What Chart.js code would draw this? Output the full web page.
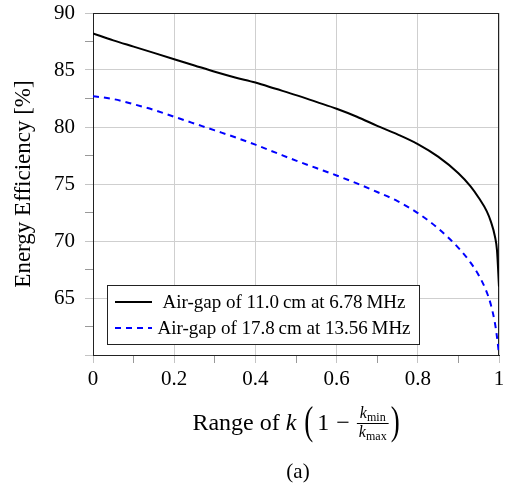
<!DOCTYPE html>
<html>
<head>
<meta charset="utf-8">
<script src="https://cdn.jsdelivr.net/npm/chart.js@4.4.1/dist/chart.umd.min.js"></script>
<style>
  body { margin: 0; background: #fff; }
  #wrap { width: 510px; height: 493px; }
</style>
</head>
<body>
<div id="wrap"><canvas id="effChart" width="510" height="493"></canvas></div>
<script>
// range of k = 1 - kmin/kmax
const kRange   = [0, 0.05, 0.1, 0.15, 0.2, 0.25, 0.3, 0.35, 0.4, 0.45, 0.5, 0.55, 0.6, 0.65, 0.7, 0.75, 0.8, 0.85, 0.9, 0.93, 0.95, 0.97, 0.98, 0.99, 0.995, 1];
const eff11cm  = [88.2, 87.6, 87.05, 86.5, 85.95, 85.4, 84.85, 84.35, 83.9, 83.35, 82.8, 82.2, 81.6, 80.9, 80.1, 79.35, 78.5, 77.4, 75.95, 74.8, 73.8, 72.6, 71.7, 70.4, 69.2, 66.0];
const eff178cm = [82.7, 82.45, 82.0, 81.5, 80.9, 80.3, 79.7, 79.1, 78.45, 77.75, 77.05, 76.4, 75.75, 75.05, 74.3, 73.5, 72.45, 71.1, 69.4, 68.1, 67.0, 65.5, 64.4, 62.8, 61.6, 60.1];

const seriesLabels = ['Air-gap of 11.0\u2009cm at 6.78\u2009MHz', 'Air-gap of 17.8\u2009cm at 13.56\u2009MHz'];
const xTickLabels = ['0', '0.2', '0.4', '0.6', '0.8', '1'];
const yTickLabels = ['65', '70', '75', '80', '85', '90'];

const SERIF = '"Liberation Serif", "Times New Roman", serif';
const GRID = '#cfcfcf';

const toPoints = (ys) => kRange.map((k, i) => ({ x: k, y: ys[i] }));
const isMajor = (v, step) => Math.abs(v / step - Math.round(v / step)) < 1e-6;

// top/right frame of the axis box
const frameBox = {
  id: 'frameBox',
  beforeDatasetsDraw(chart) {
    const { ctx, chartArea: a } = chart;
    ctx.save();
    ctx.strokeStyle = '#222';
    ctx.lineWidth = 1;
    ctx.strokeRect(a.left + 0.5, a.top + 0.5, a.right - a.left - 1, a.bottom - a.top);
    ctx.restore();
  }
};

// legend box inside the lower left corner
const boxLegend = {
  id: 'boxLegend',
  afterDatasetsDraw(chart) {
    const { ctx, chartArea: a } = chart;
    const left = a.left + 14, top = a.bottom - 70, w = 312, h = 59;
    ctx.save();
    ctx.fillStyle = '#fff';
    ctx.fillRect(left, top, w, h);
    ctx.strokeStyle = '#222';
    ctx.lineWidth = 1;
    ctx.strokeRect(left + 0.5, top + 0.5, w, h);
    ctx.font = '19px ' + SERIF;
    ctx.textAlign = 'center';
    ctx.textBaseline = 'alphabetic';
    chart.data.datasets.forEach((ds, i) => {
      const cy = top + 17 + i * 26;
      ctx.strokeStyle = ds.borderColor;
      ctx.lineWidth = ds.borderWidth;
      ctx.setLineDash(ds.borderDash || []);
      ctx.beginPath();
      ctx.moveTo(left + 8, cy);
      ctx.lineTo(left + 45, cy);
      ctx.stroke();
      ctx.setLineDash([]);
      ctx.fillStyle = '#000';
      ctx.fillText(ds.label, left + 177, cy + 6);
    });
    ctx.restore();
  }
};

// x-axis title with the fraction, plus the (a) caption
const mathTitle = {
  id: 'mathTitle',
  afterDraw(chart) {
    const { ctx, chartArea: a } = chart;
    const base = 430, cx = (a.left + a.right) / 2;
    const roman = '24px ' + SERIF, ital = 'italic 24px ' + SERIF;
    const fk = 'italic 16px ' + SERIF, fsub = '12px ' + SERIF;
    ctx.save();
    ctx.fillStyle = '#000';
    ctx.textBaseline = 'alphabetic';
    ctx.textAlign = 'left';
    const w = (t, f) => { ctx.font = f; return ctx.measureText(t).width; };

    const wRange = w('Range of ', roman), wK = w('k', ital);
    const wParen = w('(', '27px ' + SERIF);
    const wOne = w('1', roman), wMinus = w('\u2212', roman);
    const wNum = w('k', fk) + w('min', fsub), wDen = w('k', fk) + w('max', fsub);
    const wFrac = Math.max(wNum, wDen) + 4;
    const total = wRange + wK + 8 + wParen + 4 + wOne + 7 + wMinus + 7 + wFrac + 2 + wParen;
    let x = cx - total / 2;

    ctx.font = roman; ctx.fillText('Range of ', x, base); x += wRange;
    ctx.font = ital; ctx.fillText('k', x, base); x += wK + 8;

    const paren = (ch, px) => {
      ctx.save();
      ctx.font = '27px ' + SERIF;
      ctx.translate(px, base - 5);
      ctx.scale(1, 1.45);
      ctx.fillText(ch, 0, 6);
      ctx.restore();
    };
    paren('(', x); x += wParen + 4;
    ctx.font = roman; ctx.fillText('1', x, base); x += wOne + 7;
    ctx.fillText('\u2212', x, base); x += wMinus + 7;

    // fraction kmin / kmax
    const barY = base - 7;
    ctx.fillRect(x, barY, wFrac, 1);
    let nx = x + (wFrac - wNum) / 2;
    ctx.font = fk; ctx.fillText('k', nx, barY - 5); nx += w('k', fk);
    ctx.font = fsub; ctx.fillText('min', nx, barY - 2);
    let dx = x + (wFrac - wDen) / 2;
    ctx.font = fk; ctx.fillText('k', dx, barY + 14); dx += w('k', fk);
    ctx.font = fsub; ctx.fillText('max', dx, barY + 17);
    x += wFrac + 2;
    paren(')', x);

    ctx.font = '21px ' + SERIF;
    ctx.textAlign = 'center';
    ctx.fillText('(a)', 298, 478);
    ctx.restore();
  }
};

new Chart(document.getElementById('effChart'), {
  type: 'line',
  data: {
    datasets: [
      {
        label: seriesLabels[0],
        data: toPoints(eff11cm),
        borderColor: '#000000',
        borderWidth: 2,
        pointRadius: 0,
        cubicInterpolationMode: 'monotone'
      },
      {
        label: seriesLabels[1],
        data: toPoints(eff178cm),
        borderColor: '#0000ff',
        borderWidth: 2,
        borderDash: [6, 5],
        pointRadius: 0,
        cubicInterpolationMode: 'monotone'
      }
    ]
  },
  options: {
    responsive: false,
    animation: false,
    layout: { padding: { top: 13, right: 11, left: 0, bottom: 0 } },
    plugins: {
      legend: { display: false },
      tooltip: { enabled: false }
    },
    scales: {
      x: {
        type: 'linear',
        min: 0,
        max: 1,
        afterFit: (s) => { s.height = 138; s.paddingLeft = 0; s.paddingRight = 0; },
        border: { display: true, color: '#222', width: 1 },
        grid: {
          color: (c) => isMajor(c.tick.value, 0.2) ? GRID : 'rgba(0,0,0,0)',
          tickColor: (c) => isMajor(c.tick.value, 0.2) ? '#c4c4c4' : '#999',
          tickLength: 8,
          lineWidth: 1
        },
        ticks: {
          stepSize: 0.1,
          maxRotation: 0,
          autoSkip: false,
          padding: 4,
          color: '#000',
          font: { family: SERIF, size: 21 },
          callback: (v) => {
            const s = String(+(+v).toFixed(2));
            return xTickLabels.includes(s) ? s : '';
          }
        }
      },
      y: {
        min: 60,
        max: 90,
        afterFit: (s) => { s.width = 93; s.paddingTop = 0; s.paddingBottom = 0; },
        border: { display: true, color: '#222', width: 1 },
        grid: {
          color: (c) => isMajor(c.tick.value, 5) ? GRID : 'rgba(0,0,0,0)',
          tickColor: (c) => isMajor(c.tick.value, 5) ? '#c4c4c4' : '#999',
          tickLength: 8,
          lineWidth: 1
        },
        ticks: {
          stepSize: 2.5,
          autoSkip: false,
          padding: 10,
          color: '#000',
          font: { family: SERIF, size: 21 },
          callback: (v) => {
            const s = String(+(+v).toFixed(1));
            return yTickLabels.includes(s) ? s : '';
          }
        },
        title: {
          display: true,
          text: 'Energy Efficiency [%]',
          color: '#000',
          font: { family: SERIF, size: 23 },
          padding: { top: 10, bottom: 0 }
        }
      }
    }
  },
  plugins: [frameBox, boxLegend, mathTitle]
});
</script>
</body>
</html>
